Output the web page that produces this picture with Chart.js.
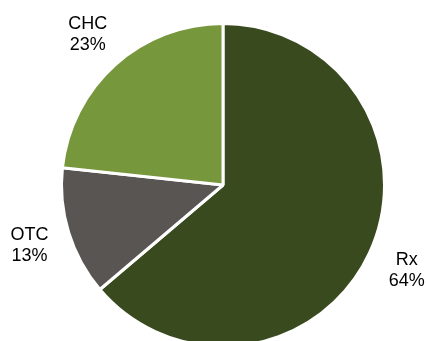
<!DOCTYPE html>
<html>
<head>
<meta charset="utf-8">
<script src="https://cdn.jsdelivr.net/npm/chart.js@4"></script>
<style>
  html, body { margin: 0; padding: 0; background: #fff; overflow: hidden; }
  #wrap { width: 426px; height: 380px; position: relative; }
</style>
</head>
<body>
<div id="wrap"><canvas id="shareChart"></canvas></div>
<script>
const CATEGORIES = ["Rx", "OTC", "CHC"];
const SHARES = [63.8, 12.9, 23.3];
const COLORS = ["#3a4a1f", "#595553", "#77973d"];

// ==============================
// OUTSIDE LABELS
// ==============================
const outsideLabels = {
  id: "outsideLabels",
  afterDatasetsDraw(chart) {
    const ctx = chart.ctx;
    const arcs = chart.getDatasetMeta(0).data;
    ctx.save();
    ctx.font = "18px 'Liberation Sans', Arial, sans-serif";
    ctx.fillStyle = "#000";
    ctx.textAlign = "center";
    ctx.textBaseline = "middle";
    arcs.forEach((arc, i) => {
      const mid = (arc.startAngle + arc.endAngle) / 2;
      const r = arc.outerRadius + 41;
      const x = arc.x + Math.cos(mid) * r;
      const y = arc.y + Math.sin(mid) * r;
      ctx.fillText(CATEGORIES[i], x, y - 10);
      ctx.fillText(Math.round(SHARES[i]) + "%", x, y + 11);
    });
    ctx.restore();
  }
};

new Chart(document.getElementById("shareChart"), {
  type: "pie",
  data: {
    labels: CATEGORIES,
    datasets: [{
      data: SHARES,
      backgroundColor: COLORS,
      borderColor: "#fff",
      borderWidth: 3
    }]
  },
  options: {
    responsive: true,
    maintainAspectRatio: false,
    animation: false,
    layout: { padding: { left: 60, top: 22, right: 40, bottom: 32 } },
    plugins: {
      legend: { display: false },
      tooltip: { enabled: false }
    }
  },
  plugins: [outsideLabels]
});
</script>
</body>
</html>
